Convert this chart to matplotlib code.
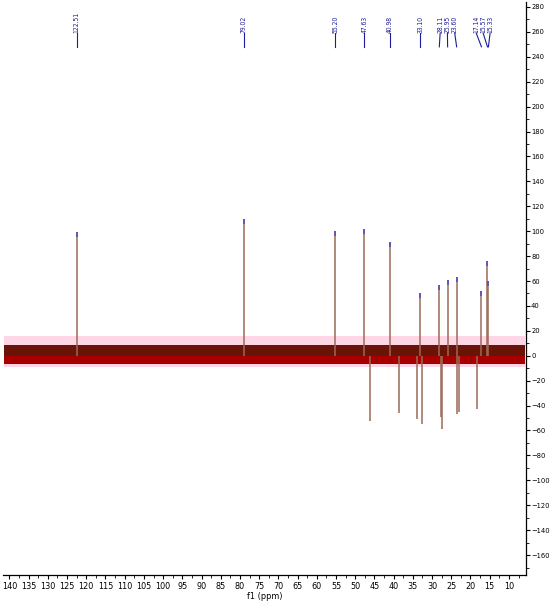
import matplotlib
matplotlib.use("Agg")
import matplotlib.pyplot as plt
from matplotlib.ticker import MultipleLocator

# ---- data ----
pos_ppm = [122.51, 79.02, 55.20, 47.63, 40.98, 33.10, 28.11, 25.95, 23.60, 17.14, 15.57, 15.33]
pos_height = [99, 110, 100, 102, 91, 50, 57, 61, 63, 52, 76, 60]
label_text = ["122.51", "79.02", "55.20", "47.63", "40.98", "33.10",
              "28.11", "25.95", "23.60", "17.14", "15.57", "15.33"]
label_pos = [122.51, 79.02, 55.20, 47.63, 40.98, 33.10, 27.9, 26.0, 24.1, 18.5, 16.7, 14.9]

neg_ppm = [46.1, 38.6, 34.0, 32.6, 27.8, 27.4, 23.6, 23.0, 18.4]
neg_depth = [-52, -46, -51, -55, -49, -59, -47, -45.5, -43]

noise_pink = (-9, 16)
noise_dark_top = (0, 9)
noise_red = (-7, 2)
spec_range = (141.3, 5.9)

xticks_major = list(range(140, 5, -5))
yticks_major = list(range(-160, 281, 20))

fam = ['DejaVu Sans']

fig = plt.figure(figsize=(5.5, 6.1), dpi=100)
ax = fig.add_axes([0.006, 0.0574, 0.950, 0.9393])
ax.set_xlim(141.6, 5.6)
ax.set_ylim(-176, 284)

# noise band
xs = [spec_range[0], spec_range[1]]
ax.fill_between(xs, noise_pink[0], noise_pink[1], color='#ffd6e6', lw=0, zorder=1)
ax.fill_between(xs, noise_red[0], noise_red[1], color='#a80000', lw=0, zorder=2)
ax.fill_between(xs, noise_dark_top[0], noise_dark_top[1], color='#6a1408', lw=0, zorder=2)

# peaks
ax.vlines(pos_ppm, 0, pos_height, color='#9a6a58', lw=1.1, zorder=3)
ax.vlines(neg_ppm, 0, neg_depth, color='#9a6a58', lw=1.1, zorder=3)
ax.vlines(pos_ppm, [h - 4 for h in pos_height], pos_height, color='#4a4ac8', lw=1.1, zorder=4)

# labels
for t, lp, pp in zip(label_text, label_pos, pos_ppm):
    ax.text(lp, 259.5, t, rotation=90, ha='center', va='bottom', color='#1c1c9c',
            fontsize=4.9, family=fam, fontstretch='condensed')
    ax.plot([lp, pp], [259, 248], color='#1c1c9c', lw=0.8)

# axes styling
for s in ['top', 'left']:
    ax.spines[s].set_visible(False)
ax.spines['right'].set_linewidth(0.9)
ax.spines['bottom'].set_linewidth(0.9)
ax.yaxis.tick_right()
ax.set_xticks(xticks_major)
ax.xaxis.set_minor_locator(MultipleLocator(2.5))
ax.set_yticks(yticks_major)
ax.yaxis.set_minor_locator(MultipleLocator(10))
ax.tick_params(axis='both', which='major', length=3, width=0.8, labelsize=6.5, pad=2)
ax.tick_params(axis='y', which='major', pad=0.8, labelsize=5.4)
ax.tick_params(axis='both', which='minor', length=2, width=0.6)
for lab in ax.get_xticklabels() + ax.get_yticklabels():
    lab.set_family(fam)
    lab.set_fontstretch('condensed')
ax.set_xlabel('f1 (ppm)', fontsize=6.5, family=fam, fontstretch='condensed', labelpad=1)

fig.savefig('out.png', dpi=100)
